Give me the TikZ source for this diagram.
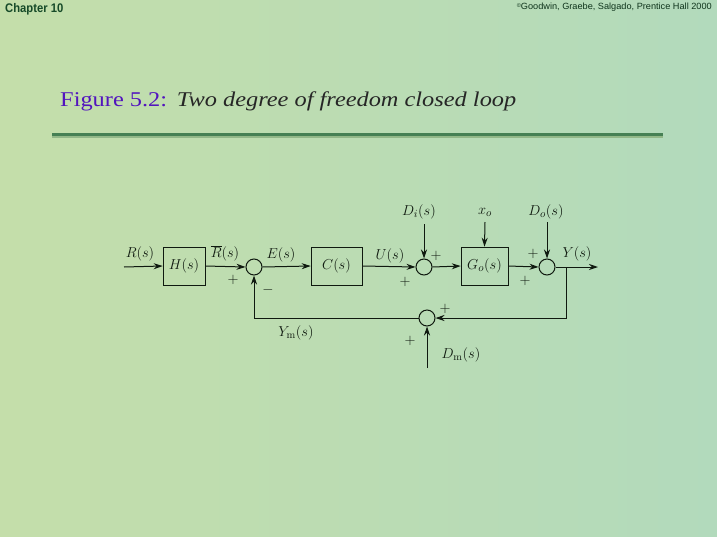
\documentclass[tikz,border=0pt]{standalone}
\usepackage{fontspec}
\newfontfamily\timesf{Liberation Serif}
\newfontfamily\arialf{Liberation Sans}
\usetikzlibrary{arrows.meta}
\definecolor{bgA}{RGB}{196,222,170}
\definecolor{bgB}{RGB}{178,218,188}
\definecolor{chapgreen}{RGB}{22,74,40}
\definecolor{titlepurple}{RGB}{82,20,190}
\definecolor{rulegreen}{RGB}{70,128,84}
\definecolor{linecol}{RGB}{15,25,15}
\begin{document}
\begin{tikzpicture}[x=1pt,y=-1pt,
  every node/.style={font=\fontsize{15}{17}\selectfont, text=linecol},
  blk/.style={draw=linecol, line width=0.6pt, minimum height=38pt, inner sep=0pt},
  summer/.style={draw=linecol, circle, line width=1pt, minimum size=16pt, inner sep=0pt},
  sig/.style={draw=linecol, line width=1pt},
  arr/.style={sig, -{Stealth[length=9pt,width=6pt]}},
  lbl/.style={inner sep=0pt},
  sgn/.style={inner sep=0pt, font=\fontsize{15}{15}\selectfont}]
\shade[left color=bgA, right color=bgB] (0,0) rectangle (717,536);
\useasboundingbox (0,0) rectangle (717,536);

% header
\node[anchor=west, inner sep=0pt, text=chapgreen, font=\arialf\bfseries\fontsize{12.5}{13}\selectfont, xscale=0.9] (chap) at (5,9) {Chapter 10};
\node[anchor=east, inner sep=0pt, text=chapgreen!70!black, font=\arialf\fontsize{9}{10}\selectfont, xscale=1.02] (copy) at (712,7) {\raisebox{0.35ex}{\fontsize{5.5}{6}\selectfont\textcopyright}Goodwin, Graebe, Salgado, Prentice Hall 2000};

% title
\node[anchor=base west, inner sep=0pt, font=\timesf\fontsize{21}{23}\selectfont, xscale=1.16] (title) at (60,106)
  {\textcolor{titlepurple}{Figure 5.2:}\hspace{0.4em}\textcolor{black!85}{\itshape Two degree of freedom closed loop}};
\fill[rulegreen] (52,133) rectangle (663,136);
\fill[rulegreen!40!bgA] (52,136) rectangle (663,137.5);

% blocks
\node[blk, minimum width=42pt] (H) at (184,266) {$H(s)$};
\node[blk, minimum width=51pt] (C) at (336.5,266) {$C(s)$};
\node[blk, minimum width=47pt] (G) at (484.5,266) {$G_o(s)$};
\node[summer] (s1) at (254,267) {};
\node[summer] (s2) at (424,267) {};
\node[summer] (s3) at (547,267) {};
\node[summer] (s4) at (427,318) {};

\coordinate (rin) at (124,267);
\coordinate (yout) at (598,267);
\coordinate (br) at (566,267);
\coordinate (br2) at (566,318);
\coordinate (dit) at (424,224);
\coordinate (xot) at (485,222);
\coordinate (dot) at (547,222);
\coordinate (dmb) at (427,368);

% main path
\draw[arr] (rin) -- (H.west);
\draw[arr] (H.east) -- (s1.west);
\draw[arr] (s1.east) -- (C.west);
\draw[arr] (C.east) -- (s2.west);
\draw[arr] (s2.east) -- (G.west);
\draw[arr] (G.east) -- (s3.west);
\draw[arr] (s3.east) -- (yout);
\draw[arr] (dit) -- (s2.north);
\draw[arr] (xot) -- (G.north);
\draw[arr] (dot) -- (s3.north);
\draw[arr] (br) -- (br2) -- (s4.east);
\draw[arr] (dmb) -- (s4.south);
\draw[arr] (s4.west) -| (s1.south);

% labels
\node[lbl] (lR) at (140,254) {$R(s)$};
\node[lbl] (lRb) at (225,253) {$\overline{R}(s)$};
\node[lbl] (lE) at (281,255) {$E(s)$};
\node[lbl] (lU) at (390,256) {$U(s)$};
\node[lbl] (lDi) at (419,212) {$D_i(s)$};
\node[lbl] (lxo) at (485,212) {$x_o$};
\node[lbl] (lDo) at (546,212) {$D_o(s)$};
\node[lbl] (lY) at (577,254) {$Y(s)$};
\node[lbl] (lYm) at (296,333) {$Y_{\mathrm{m}}(s)$};
\node[lbl] (lDm) at (461,355) {$D_{\mathrm{m}}(s)$};

% signs
\node[sgn] (p1) at (233,280) {$+$};
\node[sgn] (m1) at (268,290) {$-$};
\node[sgn] (p2) at (436,256) {$+$};
\node[sgn] (p3) at (405,282) {$+$};
\node[sgn] (p4) at (533,254) {$+$};
\node[sgn] (p5) at (525,281) {$+$};
\node[sgn] (p6) at (445,309) {$+$};
\node[sgn] (p7) at (410,341) {$+$};
\end{tikzpicture}
\end{document}
